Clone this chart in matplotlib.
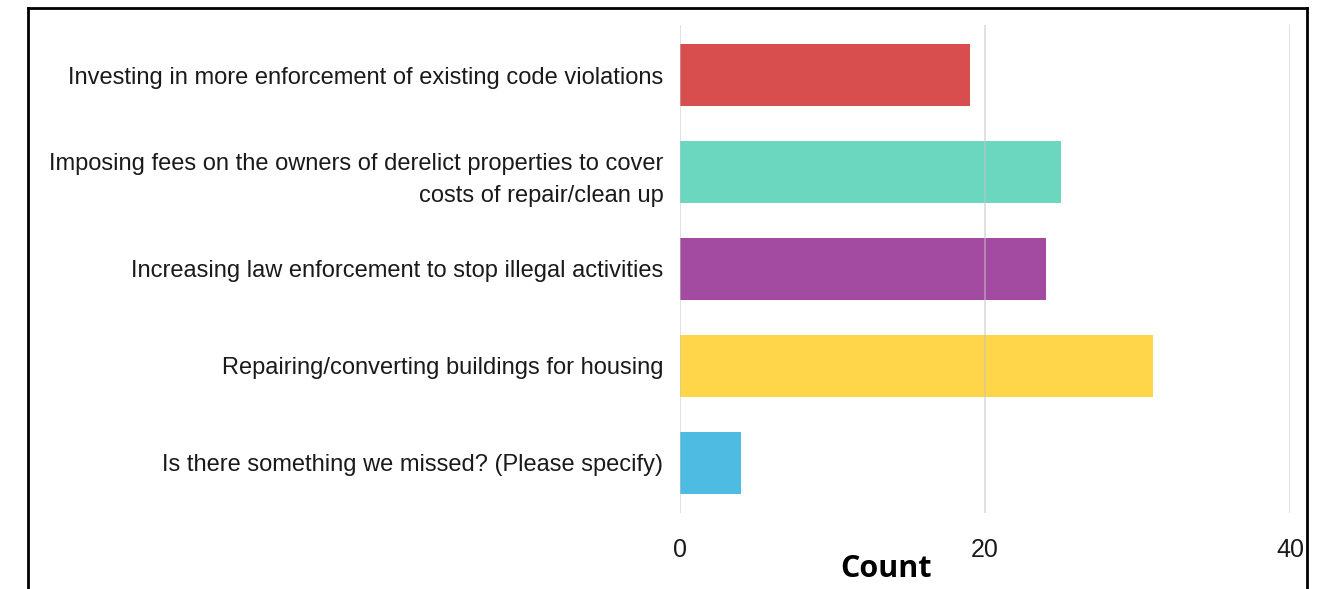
import matplotlib
matplotlib.use("Agg")
import matplotlib.pyplot as plt
from matplotlib import font_manager as fm

categories = [
    "Investing in more enforcement of existing code violations",
    "Imposing fees on the owners of derelict properties to cover\ncosts of repair/clean up",
    "Increasing law enforcement to stop illegal activities",
    "Repairing/converting buildings for housing",
    "Is there something we missed? (Please specify)",
]
counts = [19, 25, 24, 31, 4]
colors = ["#D84E4F", "#6BD7BE", "#A24BA1", "#FFD549", "#4DBBE2"]
xticks = [0, 20, 40]

names = {f.name for f in fm.fontManager.ttflist}
label_font = "Liberation Sans Narrow" if "Liberation Sans Narrow" in names else "Liberation Sans"

fig = plt.figure(figsize=(13.22, 5.89), dpi=100)
ax = fig.add_axes([680/1322, 1-513/589, 610/1322, 488/589])

ypos = list(range(len(categories)))
ax.barh(ypos, counts, height=0.64, color=colors, zorder=1)
ax.set_xlim(0, 40)
ax.set_ylim(4.52, -0.52)
ax.set_xticks(xticks)
ax.set_xticklabels([str(t) for t in xticks], fontsize=18, family=label_font, color="#1a1a1a")
ax.set_yticks(ypos)
ax.set_yticklabels(categories, fontsize=17, family=label_font, color="#1a1a1a", linespacing=1.6)
ax.tick_params(axis="both", length=0)
ax.tick_params(axis="y", pad=12)
ax.tick_params(axis="x", pad=18)
for s in ax.spines.values():
    s.set_visible(False)
for t in xticks:
    ax.axvline(t, color="#c4c4c4", lw=1.2, alpha=0.6, zorder=2)

fig.text(886/1322, 1-569/589, "Count", ha="center", va="center",
         fontsize=22, fontweight="bold", family="Open Sans", color="black")

# outer border (top, left, right)
fig.add_artist(plt.Line2D([28/1322, 28/1322], [0, 1-8/589], transform=fig.transFigure, color="black", lw=2))
fig.add_artist(plt.Line2D([28/1322, 1307/1322], [1-8/589, 1-8/589], transform=fig.transFigure, color="black", lw=2))
fig.add_artist(plt.Line2D([1307/1322, 1307/1322], [0, 1-8/589], transform=fig.transFigure, color="black", lw=2))

fig.savefig("out.png", dpi=100)
